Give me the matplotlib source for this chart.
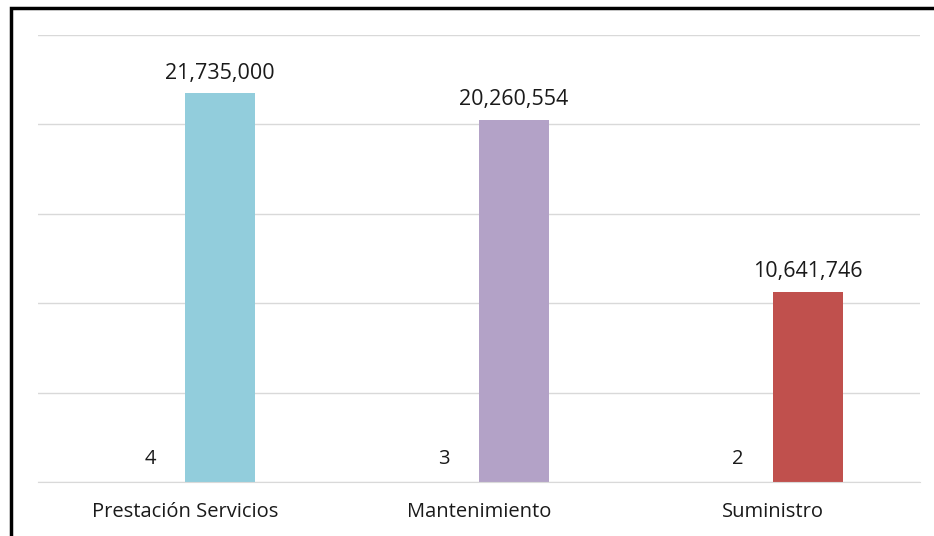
import matplotlib.pyplot as plt
import numpy as np
from matplotlib.patches import Rectangle
from matplotlib.ticker import MultipleLocator

categories = ['Prestación Servicios', 'Mantenimiento', 'Suministro']
counts = [4, 3, 2]
amounts = [21735000, 20260554, 10641746]
colors = ['#92CDDC', '#B3A2C7', '#C0504D']

plt.rcParams['font.family'] = ['Open Sans', 'DejaVu Sans']

fig = plt.figure(figsize=(9.34, 5.36), dpi=100)
ax = fig.add_axes([38 / 934, 1 - 482 / 536, 882 / 934, 447 / 536])

x = np.arange(len(categories))
w = 0.238

# count series (tiny bars, only labels show) and amount series
ax.bar(x - w / 2, counts, w, color='none')
ax.bar(x + w / 2, amounts, w, color=colors)

for xi, c in zip(x, counts):
    ax.annotate(str(c), (xi - w / 2, c), xytext=(0, 9), textcoords='offset points',
                ha='center', va='bottom', fontsize=14.5, color='#1a1a1a')
for xi, a in zip(x, amounts):
    ax.annotate(f'{a:,}', (xi + w / 2, a), xytext=(0, 7), textcoords='offset points',
                ha='center', va='bottom', fontsize=15.5, color='#1a1a1a')

ax.set_xlim(-0.5, 2.5)
ax.set_ylim(0, 25000000)
ax.yaxis.set_major_locator(MultipleLocator(5000000))
ax.grid(axis='y', color='#D9D9D9', linewidth=1)
ax.set_axisbelow(True)
ax.set_yticklabels([])
ax.tick_params(left=False, bottom=False)
ax.set_xticks(x)
ax.set_xticklabels(categories, fontsize=14.5, color='#1a1a1a')
ax.tick_params(axis='x', pad=11)
for s in ['top', 'right', 'left']:
    ax.spines[s].set_visible(False)
ax.spines['bottom'].set_color('#D9D9D9')

# outer black frame, cut off at right and bottom
fig.patches.append(Rectangle((11 / 934, -0.05), 1.0, 1 - 8 / 536 + 0.05,
                             transform=fig.transFigure, fill=False,
                             edgecolor='black', linewidth=2.5))

fig.savefig('out.png', dpi=100)
